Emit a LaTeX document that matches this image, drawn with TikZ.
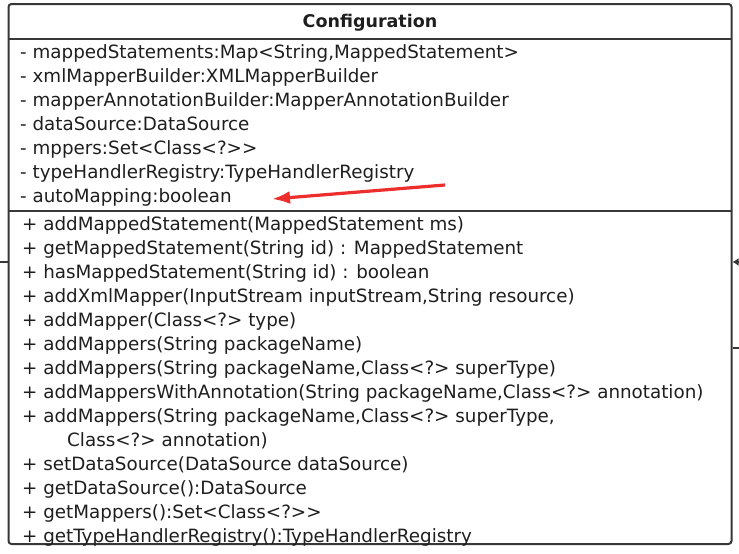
\documentclass[tikz,border=0pt]{standalone}
\usepackage{fontspec}
\setmainfont{DejaVu Sans}
\usetikzlibrary{arrows.meta,calc}
\definecolor{umlgray}{RGB}{55,55,55}
\definecolor{umltext}{RGB}{30,30,30}
\definecolor{markred}{RGB}{238,45,45}

\begin{document}
\begin{tikzpicture}[x=1pt, y=-1pt,
  cls/.style   ={draw=umlgray, line width=2pt, rounded corners=3pt,
                 minimum width=723pt, minimum height=540pt, inner sep=0pt},
  sepline/.style={draw=umlgray, line width=1.6pt},
  title/.style ={font=\fontsize{17.5}{20}\selectfont\bfseries, text=umltext},
  member/.style={font=\fontsize{18.3}{22}\selectfont, text=umltext,
                 anchor=base west, inner sep=0pt},
  link/.style  ={draw=umlgray, line width=2pt},
  note/.style  ={draw=markred, line width=3.2pt,
                 -{Latex[length=18pt,width=13pt]}}
]
  \useasboundingbox (0,0) rectangle (739,554);

  %% -- class box ------------------------------------------------------------
  \node[cls] (cfg) at (370,274) {};
  \node[title] (cfgname) at (370,23) {Configuration};
  \draw[sepline] (8.5,39)  -- (731.5,39);
  \draw[sepline] (8.5,211) -- (731.5,211);

  %% -- members, clipped to the box ------------------------------------------
  \begin{scope}
    \clip (cfg.south west) rectangle (cfg.north east);
    % attributes
    \foreach \txt [count=\i] in {%
        {- mappedStatements:Map<String,MappedStatement>},
        {- xmlMapperBuilder:XMLMapperBuilder},
        {- mapperAnnotationBuilder:MapperAnnotationBuilder},
        {- dataSource:DataSource},
        {- mppers:Set<Class<?>{}>},
        {- typeHandlerRegistry:TypeHandlerRegistry},
        {- autoMapping:boolean}}
      \node[member] (a\i) at (20,{34+24*\i}) {\txt};
    % operations
    \foreach \txt [count=\i] in {%
        {+ addMappedStatement(MappedStatement ms)},
        {+ getMappedStatement(String id) : MappedStatement},
        {+ hasMappedStatement(String id) : boolean},
        {+ addXmlMapper(InputStream inputStream,String resource)},
        {+ addMapper(Class<?> type)},
        {+ addMappers(String packageName)},
        {+ addMappers(String packageName,Class<?> superType)},
        {+ addMappersWithAnnotation(String packageName,Class<?> annotation)},
        {+ addMappers(String packageName,Class<?> superType,},
        {\hspace*{45pt}Class<?> annotation)},
        {+ setDataSource(DataSource dataSource)},
        {+ getDataSource():DataSource},
        {+ getMappers():Set<Class<?>{}>},
        {+ getTypeHandlerRegistry():TypeHandlerRegistry}}
      \node[member] (m\i) at (22,{206+24*\i}) {\txt};
  \end{scope}

  %% -- connector stubs ------------------------------------------------------
  \coordinate (lin)  at (0,262);
  \coordinate (rin)  at (739,262);
  \coordinate (rout) at (739,348);
  \draw[link] (lin) -- (lin -| cfg.west);
  \draw[link, -{Latex[length=6pt,width=8pt]}] (rin) -- (rin -| cfg.east);
  \draw[link] (rout) -- (rout -| cfg.east);

  %% -- red hint arrow -------------------------------------------------------
  \coordinate (hint)    at (445,185);
  \coordinate (hinttip) at (272,199);
  \draw[note] (hint) -- (hinttip);
\end{tikzpicture}
\end{document}
